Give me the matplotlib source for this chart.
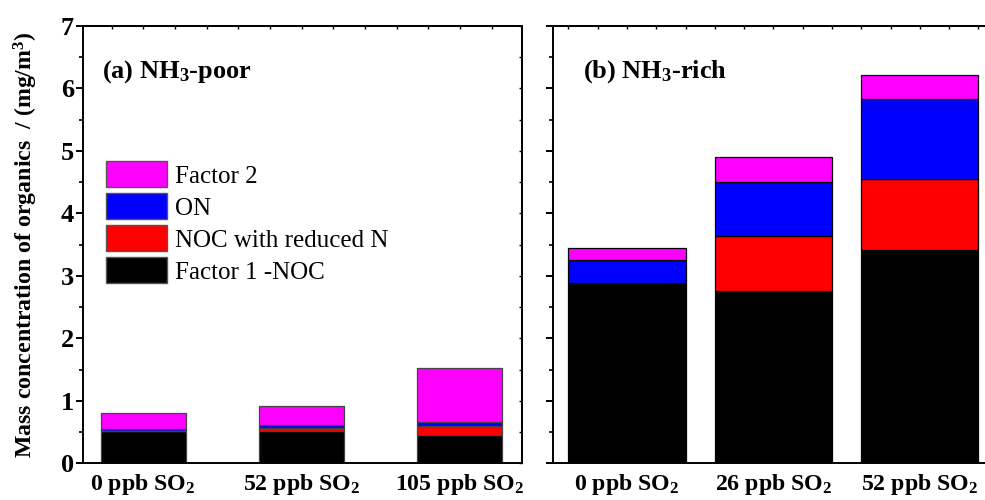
import matplotlib
matplotlib.use("Agg")
import matplotlib.pyplot as plt
import numpy as np
from matplotlib.patches import Patch
from matplotlib.ticker import MultipleLocator

plt.rcParams['font.family'] = ['Liberation Serif', 'DejaVu Serif']
plt.rcParams['mathtext.default'] = 'regular'

# NH3-poor experiments
poor_labels = ["0 ppb SO$_2$", "52 ppb SO$_2$", "105 ppb SO$_2$"]
poor_factor1_noc = [0.52, 0.52, 0.45]
poor_noc_reduced = [0.005, 0.04, 0.14]
poor_on = [0.03, 0.05, 0.07]
poor_factor2 = [0.245, 0.30, 0.86]

# NH3-rich experiments
rich_labels = ["0 ppb SO$_2$", "26 ppb SO$_2$", "52 ppb SO$_2$"]
rich_factor1_noc = [2.88, 2.76, 3.41]
rich_noc_reduced = [0.0, 0.88, 1.14]
rich_on = [0.38, 0.87, 1.28]
rich_factor2 = [0.19, 0.40, 0.39]

series_names = ["Factor 1 -NOC", "NOC with reduced N", "ON", "Factor 2"]
series_colors = ["#000000", "#FF0000", "#0000FF", "#FF00FF"]

XTICK_FS = 17.2
YTICK_FS = 19
LABEL_FS = 17.2
TITLE_FS = 19
LEGEND_FS = 18

fig = plt.figure(figsize=(9.85, 5.0), dpi=100)
ax1 = fig.add_axes([83 / 985, 1 - 463.3 / 500, (521.7 - 83) / 985, 437.3 / 500])
ax2 = fig.add_axes([553.3 / 985, 1 - 463.3 / 500, (993 - 553.3) / 985, 437.3 / 500])


def draw_panel(ax, labels, layers, width, xlim, edge):
    x = np.arange(1, len(labels) + 1)
    bottom = np.zeros(len(labels))
    for vals, name, col in zip(layers, series_names, series_colors):
        vals = np.array(vals)
        ax.bar(x, vals, width, bottom=bottom, color=col,
               edgecolor=edge, linewidth=0.9, label=name, zorder=2)
        bottom = bottom + vals
    ax.set_xlim(*xlim)
    ax.set_ylim(0, 7)
    ax.set_xticks(x)
    ax.set_xticklabels(labels, fontsize=XTICK_FS, fontweight='bold')
    ax.yaxis.set_major_locator(MultipleLocator(1))
    ax.yaxis.set_minor_locator(MultipleLocator(0.5))
    for sp in ax.spines.values():
        sp.set_linewidth(1.4)
    ax.tick_params(axis='x', which='major', length=0, pad=6)
    ax.tick_params(axis='y', which='major', direction='out', length=5, width=1.4,
                   labelsize=YTICK_FS, pad=1.5)
    ax.tick_params(axis='y', which='minor', direction='out', length=3, width=1.2)
    for lab in ax.get_yticklabels():
        lab.set_fontweight('bold')


poor_layers = [poor_factor1_noc, poor_noc_reduced, poor_on, poor_factor2]
rich_layers = [rich_factor1_noc, rich_noc_reduced, rich_on, rich_factor2]

draw_panel(ax1, poor_labels, poor_layers, 0.536, (0.62, 3.39), '#444444')
draw_panel(ax2, rich_labels, rich_layers, 0.80, (0.497, 3.5), '#000000')
ax2.tick_params(axis='y', which='both', labelleft=False)

# small inward ticks on the secondary spines
for ax in (ax1, ax2):
    sec = ax.secondary_yaxis('right')
    sec.yaxis.set_major_locator(MultipleLocator(0.5))
    sec.tick_params(direction='in', length=2, width=1.0, labelright=False)
    top = ax.secondary_xaxis('top')
    top.xaxis.set_major_locator(MultipleLocator(0.2))
    top.tick_params(direction='in', length=2, width=1.0, labeltop=False)
    for sp in sec.spines.values():
        sp.set_linewidth(1.4)
    for sp in top.spines.values():
        sp.set_linewidth(1.4)

ax1.set_ylabel("Mass concentration of organics  / (mg/m$^3$)",
               fontsize=LABEL_FS, fontweight='bold', labelpad=15)

ax1.text(0.043, 0.895, "(a) NH$_3$-poor", transform=ax1.transAxes,
         fontsize=TITLE_FS, fontweight='bold', va='center', ha='left')
ax2.text(0.0675, 0.895, "(b) NH$_3$-rich", transform=ax2.transAxes,
         fontsize=TITLE_FS, fontweight='bold', va='center', ha='left')

fs_px = LEGEND_FS * 100 / 72
leg_handles = [Patch(facecolor=c, edgecolor='#555555', linewidth=1.0)
               for c in series_colors][::-1]
leg_labels = series_names[::-1]
ax1.legend(leg_handles, leg_labels, loc='upper left',
           bbox_to_anchor=(106 / 985, 1 - 161 / 500),
           bbox_transform=fig.transFigure, frameon=False,
           prop={'family': 'Liberation Serif', 'size': LEGEND_FS},
           handlelength=61 / fs_px, handleheight=31 / fs_px,
           handletextpad=8 / fs_px, labelspacing=5.5 / fs_px,
           borderpad=0, borderaxespad=0)

fig.savefig("out.png", dpi=100)
